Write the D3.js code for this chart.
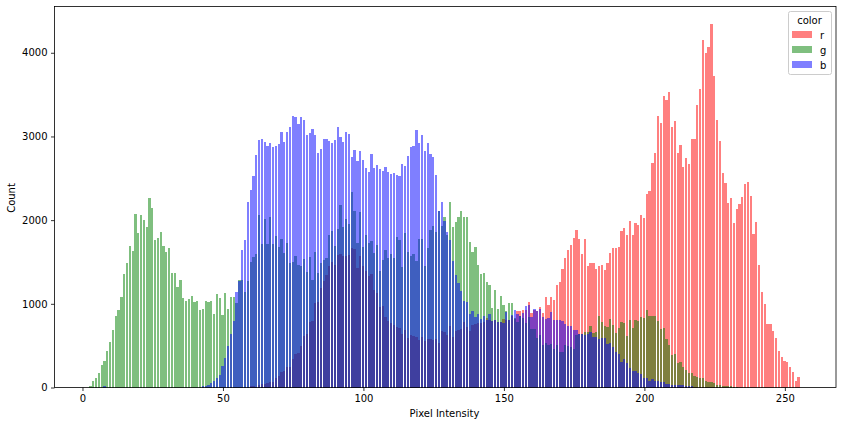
<!DOCTYPE html>
<html>
<head>
<meta charset="utf-8">
<script src="https://d3js.org/d3.v7.min.js"></script>
<style>
  html, body { margin: 0; padding: 0; background: #fff; }
  svg { display: block; }
  text { font-family: "DejaVu Sans", sans-serif; fill: #000; }
</style>
</head>
<body>
<div id="chart"></div>
<script>
// Counts per intensity bin (index = bin)
const rCounts = [
  0,0,0,0,0,0,0,0,0,0, 0,0,0,0,0,0,0,0,0,0, 0,0,0,0,0,0,0,0,0,0,
  0,0,0,0,0,0,0,0,0,0, 0,0,0,0,0,0,0,0,0,0, 0,0,0,0,0,0,0,0,0,0,
  18,18,10,25,38,38,50,66,66,114,
  137,185,197,245,245,340,400,412,495,615,
  639,782,794,1009,1021,1188,1272,1343,1451,1498,
  1463,1582,1594,1570,1570,1582,1666,1654,1427,1570,
  1451,1391,1331,1355,1164,1128,961,973,842,794,
  770,746,722,710,639,687,591,627,615,603,
  567,603,555,579,579,567,579,531,675,663,
  627,734,603,675,687,699,782,722,675,746,
  758,770,770,782,830,806,794,806,782,782,
  818,806,806,860,818,913,913,925,925,1021,
  890,930,913,961,890,1081,985,1081,1045,1224,
  1260,1415,1546,1642,1701,1785,1881,1773,1594,1773,
  1450,1486,1486,1415,1451,1463,1403,1486,1606,1666,
  1666,1678,1869,1905,1821,1988,1821,1964,1940,2060,
  2024,2310,2346,2681,2800,3242,3158,3481,3433,3529,
  3110,3182,2800,2896,2633,2740,2669,2967,2967,3373,
  3564,4149,3995,4067,4340,3719,3194,2943,2561,2441,
  2205,2265,1964,2133,2192,2277,2432,2455,2288,1833,
  1976,1463,1140,997,758,758,675,591,436,364,
  316,304,245,185,78,125
];
const gCounts = [
  0,0,0,15,75,111,171,267,314,434,
  541,685,852,923,1079,1353,1485,1688,1628,2070,
  1843,2058,1998,1914,2260,2141,1759,1783,1855,1688,
  1616,1664,1365,1365,1198,1282,1067,1031,1055,1090,
  1019,1031,923,935,1031,1019,1031,876,1114,1067,
  864,1126,935,1079,1079,1007,1282,1284,1140,1272,
  1498,1558,1594,2060,1713,2012,1713,2036,1713,1809,
  1677,1773,1606,1725,1487,1498,1570,1463,1451,1534,
  1379,1558,1284,1618,1367,1487,1522,1546,1821,1869,
  1690,1893,2179,1917,2012,1953,2335,2108,1725,2096,
  1677,1821,1725,1749,1606,1701,1391,1522,1642,1546,
  1594,1546,1797,1761,1439,1845,1618,1570,1594,1511,
  1773,1773,1451,1666,1881,1928,1857,2108,1928,2036,
  1821,2215,1917,1976,2036,2108,2036,2036,1737,1618,
  1678,1463,1355,1367,1260,1224,949,1164,937,1093,
  985,913,1009,1009,830,782,853,825,770,842,
  699,699,591,627,507,531,507,519,460,507,
  424,424,507,495,484,460,627,639,639,663,
  663,734,651,663,854,782,734,722,818,746,
  651,710,782,770,615,806,710,806,794,842,
  830,925,854,854,854,794,699,710,579,507,
  388,400,292,304,245,209,173,173,137,125,
  113,113,78,66,66,54,30,30,18,18,
  18,18,6,6,0,0,0,0,0,0,
  0,0,0,0,0,0,0,0,0,0, 0,0,0,0,0,0
];
const bCounts = [
  0,0,0,0,0,0,0,0,16,0, 0,0,0,0,0,0,0,0,0,0,
  0,0,0,0,0,0,0,0,0,0, 0,0,0,0,0,0,0,0,0,0,
  0,0,0,16,16,28,52,76,111,147,
  255,350,494,637,792,1138,1270,1642,1761,2215,
  2358,2525,2776,2955,2967,2931,2883,2919,2871,2883,
  2907,3050,2931,3050,3110,3241,3229,3146,3229,3194,
  3015,3038,3086,3015,2800,2848,2967,2967,2943,2919,
  2955,3110,2991,2931,3050,3026,2752,2836,2705,2824,
  2717,2621,2573,2788,2621,2657,2609,2585,2633,2573,
  2549,2561,2537,2525,2669,2645,2764,2872,2884,3074,
  2919,3015,2824,2919,2788,2752,2537,2108,2215,1988,
  1857,1761,1510,1343,1248,1152,1033,1021,878,913,
  842,878,818,854,806,878,794,806,782,782,
  770,901,806,866,925,877,853,889,973,985,
  842,937,913,937,842,818,830,901,806,806,
  806,794,758,734,734,687,687,639,639,627,
  639,663,603,603,579,591,591,519,531,484,
  424,400,304,340,292,233,197,197,173,161,
  113,113,78,101,78,78,66,66,42,42,
  30,30,30,30,30,18,18,18,0,0,
  0,0,0,0,0,0,0,0,0,0, 0,0,0,0,0,0,0,0,0,0,
  0,0,0,0,0,0,0,0,0,0, 0,0,0,0,0,0
];
const seriesNames = ['r', 'g', 'b'];
const seriesColors = ['#ff0000', '#008000', '#0000ff'];
const xTicks = [0, 50, 100, 150, 200, 250];
const yTicks = [0, 1000, 2000, 3000, 4000];

const width = 842;
const height = 425;
const margin = { top: 6.5, right: 6, bottom: 37.5, left: 54.5 };

const svg = d3.select('#chart').append('svg')
  .attr('width', width)
  .attr('height', height);

const x = d3.scaleLinear().domain([-9.96, 268.2]).range([margin.left, width - margin.right]);
const y = d3.scaleLinear().domain([0, 4553]).range([height - margin.bottom, margin.top]);

// bars are 0.8 of a bin wide and sit on whole pixels, that gives the uneven gaps
const barWidth = 0.8;
const binOffset = -0.15;
const allCounts = [rCounts, gCounts, bCounts];

allCounts.forEach((counts, s) => {
  const bars = counts.map((count, bin) => ({ count, bin })).filter(d => d.count > 0);
  svg.append('g')
    .attr('fill', seriesColors[s])
    .attr('fill-opacity', 0.5)
    .attr('shape-rendering', 'crispEdges')
    .selectAll('rect')
    .data(bars)
    .join('rect')
    .attr('x', d => Math.round(x(d.bin + binOffset - barWidth / 2)))
    .attr('width', d => Math.round(x(d.bin + binOffset + barWidth / 2)) - Math.round(x(d.bin + binOffset - barWidth / 2)))
    .attr('y', d => Math.round(y(d.count)))
    .attr('height', d => Math.round(y(0)) - Math.round(y(d.count)));
});

// axes
const xAxis = svg.append('g')
  .attr('transform', `translate(0,${height - margin.bottom})`)
  .call(d3.axisBottom(x).tickValues(xTicks).tickFormat(d3.format('d')).tickSize(3.5).tickPadding(3.5));
const yAxis = svg.append('g')
  .attr('transform', `translate(${margin.left},0)`)
  .call(d3.axisLeft(y).tickValues(yTicks).tickFormat(d3.format('d')).tickSize(3.5).tickPadding(3.5));

[xAxis, yAxis].forEach(axis => {
  axis.select('.domain').remove();
  axis.selectAll('line').attr('stroke', '#000').attr('stroke-width', 0.8);
  axis.selectAll('text').attr('font-size', 10).attr('font-family', '"DejaVu Sans", sans-serif').attr('fill', '#000');
});

// frame
svg.append('rect')
  .attr('x', margin.left)
  .attr('y', margin.top)
  .attr('width', width - margin.left - margin.right)
  .attr('height', height - margin.top - margin.bottom)
  .attr('fill', 'none')
  .attr('stroke', '#000')
  .attr('stroke-width', 0.8);

svg.append('text')
  .attr('x', 444.5)
  .attr('y', 417)
  .attr('text-anchor', 'middle')
  .attr('font-size', 10)
  .text('Pixel Intensity');

svg.append('text')
  .attr('transform', 'translate(15,198) rotate(-90)')
  .attr('text-anchor', 'middle')
  .attr('font-size', 10)
  .text('Count');

// legend
const legend = svg.append('g');
legend.append('rect')
  .attr('x', 788.5)
  .attr('y', 11.5)
  .attr('width', 43)
  .attr('height', 63)
  .attr('rx', 2)
  .attr('fill', '#fff')
  .attr('fill-opacity', 0.8)
  .attr('stroke', '#ccc')
  .attr('stroke-width', 1);
legend.append('text')
  .attr('x', 809.5)
  .attr('y', 24)
  .attr('text-anchor', 'middle')
  .attr('font-size', 10)
  .text('color');
seriesNames.forEach((name, s) => {
  legend.append('rect')
    .attr('x', 792)
    .attr('y', 31 + s * 15)
    .attr('width', 20)
    .attr('height', 7)
    .attr('fill', seriesColors[s])
    .attr('fill-opacity', 0.5);
  legend.append('text')
    .attr('x', 820)
    .attr('y', 38.5 + s * 15)
    .attr('font-size', 10)
    .text(name);
});
</script>
</body>
</html>
